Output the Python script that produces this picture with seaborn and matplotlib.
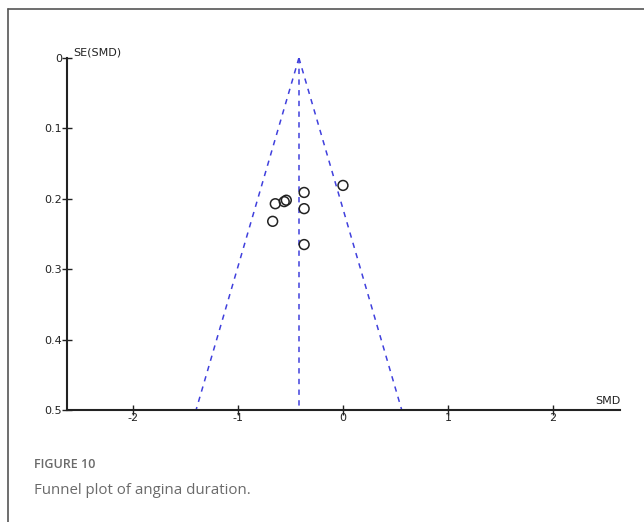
import matplotlib.pyplot as plt
import seaborn as sns
import pandas as pd
from matplotlib.lines import Line2D

# study estimates
smd = [0.0, -0.37, -0.54, -0.56, -0.645, -0.37, -0.67, -0.37]
se = [0.181, 0.191, 0.202, 0.204, 0.207, 0.214, 0.232, 0.265]

# pooled estimate and funnel limits
pooled = -0.42
funnel_se = [0.0, 0.5]
funnel_left = [-0.42, -1.40]
funnel_right = [-0.42, 0.56]

xticks = [-2, -1, 0, 1, 2]
yticks = [0, 0.1, 0.2, 0.3, 0.4, 0.5]
yticklabels = ['0', '0.1', '0.2', '0.3', '0.4', '0.5']

df = pd.DataFrame({'SMD': smd, 'SE': se})

sns.set_style('white')
plt.rcParams['font.family'] = ['DejaVu Sans']

fig = plt.figure(figsize=(6.44, 5.22), dpi=100)
ax = fig.add_axes([67 / 644, 1 - 410 / 522, (620 - 67) / 644, (410 - 58) / 522])

blue = '#4040dd'
ax.plot([pooled, pooled], funnel_se, color=blue, lw=1.1)
sns.lineplot(x=funnel_left, y=funnel_se, ax=ax, color=blue, lw=1.1,
             sort=False, estimator=None)
sns.lineplot(x=funnel_right, y=funnel_se, ax=ax, color=blue, lw=1.1,
             sort=False, estimator=None)
for l in ax.lines:
    l.set_linestyle((0, (3.5, 3.5)))

sns.scatterplot(data=df, x='SMD', y='SE', ax=ax, marker='o', s=50,
                facecolor='none', edgecolor='#222222', linewidth=1.1, zorder=5)

ax.set_xlim(-2.63, 2.64)
ax.set_ylim(0.5, 0)
ax.set_xticks(xticks)
ax.set_xticklabels([str(t) for t in xticks])
ax.set_yticks(yticks)
ax.set_yticklabels(yticklabels)
ax.set_xlabel('')
ax.set_ylabel('')
ax.tick_params(bottom=True, left=True, direction='inout', length=7, width=1,
               colors='#222222', labelsize=8)
ax.tick_params(axis='x', pad=-1)
ax.tick_params(axis='y', pad=0)

for s in ['top', 'right']:
    ax.spines[s].set_visible(False)
for s in ['left', 'bottom']:
    ax.spines[s].set_color('#222222')
    ax.spines[s].set_linewidth(1.5)

ax.text(0.012, 1.0, 'SE(SMD)', transform=ax.transAxes, fontsize=8,
        ha='left', va='bottom', color='#222222')
ax.text(1.0, 0.01, 'SMD', transform=ax.transAxes, fontsize=8,
        ha='right', va='bottom', color='#222222')

# frame around the figure (left and top edges)
fig.add_artist(Line2D([7.5 / 644, 7.5 / 644], [0, 1 - 9 / 522],
                      color='#555555', lw=1.2, transform=fig.transFigure))
fig.add_artist(Line2D([7.5 / 644, 1], [1 - 9 / 522, 1 - 9 / 522],
                      color='#555555', lw=1.2, transform=fig.transFigure))

fig.text(34 / 644, 1 - 465 / 522, 'FIGURE 10', fontsize=9, color='#6a6a6a',
         family=['Open Sans', 'DejaVu Sans'], weight='semibold', va='center')
fig.text(34 / 644, 1 - 490 / 522, 'Funnel plot of angina duration.', fontsize=10.8,
         color='#6a6a6a', family=['Open Sans', 'DejaVu Sans'], va='center')

fig.savefig('out.png', dpi=100)
